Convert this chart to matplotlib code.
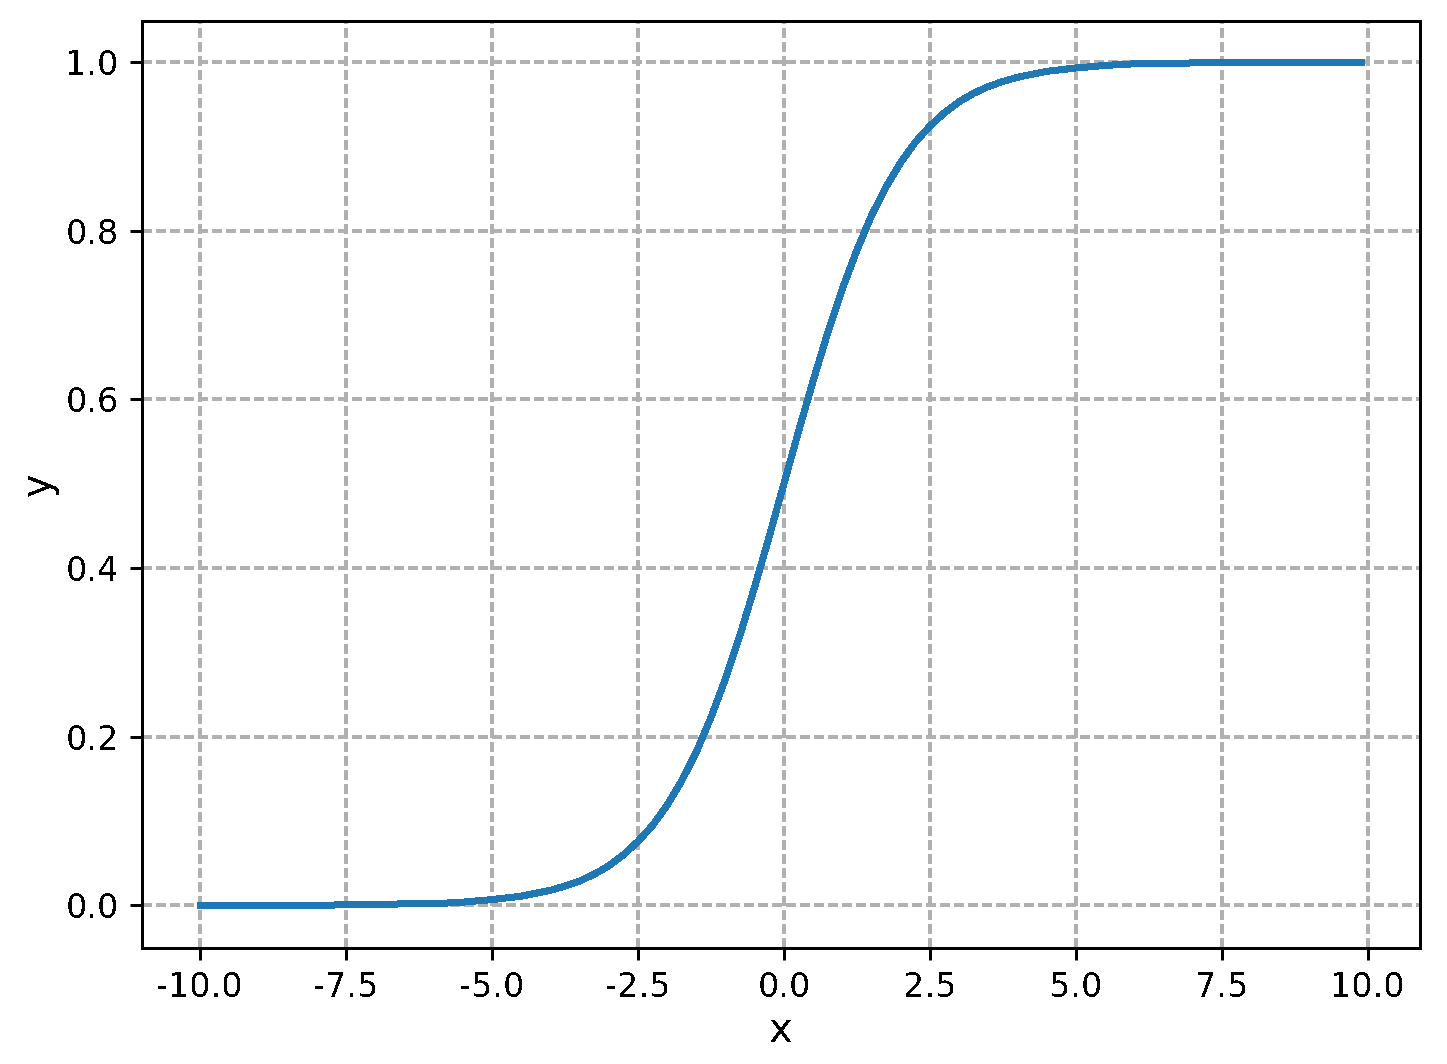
import matplotlib
matplotlib.use("Agg")
import matplotlib.pyplot as plt

x_vals = [-10, -9.5, -9, -8.5, -8, -7.5, -7, -6.5, -6, -5.5, -5, -4.5,
          -4, -3.75, -3.5, -3.25, -3, -2.75, -2.5, -2.25, -2, -1.75, -1.5, -1.25,
          -1, -0.75, -0.5, -0.25, 0, 0.25, 0.5, 0.75, 1, 1.25, 1.5, 1.75,
          2, 2.25, 2.5, 2.75, 3, 3.25, 3.5, 3.75, 4,
          4.5, 5, 5.5, 6, 6.5, 7, 7.5, 8, 8.5, 9, 9.5, 9.9]
y_vals = [0.000, 0.000, 0.000, 0.000, 0.000, 0.001, 0.001, 0.002, 0.002, 0.004, 0.007, 0.011,
          0.018, 0.023, 0.029, 0.037, 0.047, 0.060, 0.076, 0.095, 0.119, 0.148, 0.182, 0.223,
          0.269, 0.321, 0.378, 0.438, 0.500, 0.562, 0.622, 0.679, 0.731, 0.777, 0.818, 0.852,
          0.881, 0.905, 0.924, 0.940, 0.953, 0.963, 0.971, 0.977, 0.982,
          0.989, 0.993, 0.996, 0.998, 0.998, 0.999, 0.999, 1.000, 1.000, 1.000, 1.000, 1.000]
x_ticks = [-10, -7.5, -5, -2.5, 0, 2.5, 5, 7.5, 10]
x_tick_labels = ['-10.0', '-7.5', '-5.0', '-2.5', '0.0', '2.5', '5.0', '7.5', '10.0']
y_ticks = [0.0, 0.2, 0.4, 0.6, 0.8, 1.0]
y_tick_labels = ['0.0', '0.2', '0.4', '0.6', '0.8', '1.0']

plt.rcParams['axes.unicode_minus'] = False
plt.rcParams['font.family'] = ['DejaVu Sans']
plt.rcParams['text.antialiased'] = False

dpi = 240
fig = plt.figure(figsize=(1447 / dpi, 1064 / dpi), dpi=dpi)
W, H = 1447, 1064
left, right, top, bottom = 142, 1420, 20.5, 947.5
ax = fig.add_axes([left / W, 1 - bottom / H, (right - left) / W, (bottom - top) / H])

ax.plot(x_vals, y_vals, color='#1f77b4', linewidth=1.8, antialiased=False)
ax.grid(True, linestyle=(0, (2.6, 1.3)), color='#b0b0b0', linewidth=1.1, antialiased=False)
ax.set_xticks(x_ticks)
ax.set_xticklabels(x_tick_labels)
ax.set_yticks(y_ticks)
ax.set_yticklabels(y_tick_labels)
ax.tick_params(labelsize=10, width=0.9, length=3.5)
for s in ax.spines.values():
    s.set_linewidth(0.9)
    s.set_antialiased(False)
ax.set_xlabel('x', fontsize=12, labelpad=2)
ax.set_ylabel('y', fontsize=12, labelpad=2)
ax.set_xlim(-10.995, 10.895)
ax.set_ylim(-0.0498, 1.0493)

fig.savefig('out.png', dpi=dpi)
